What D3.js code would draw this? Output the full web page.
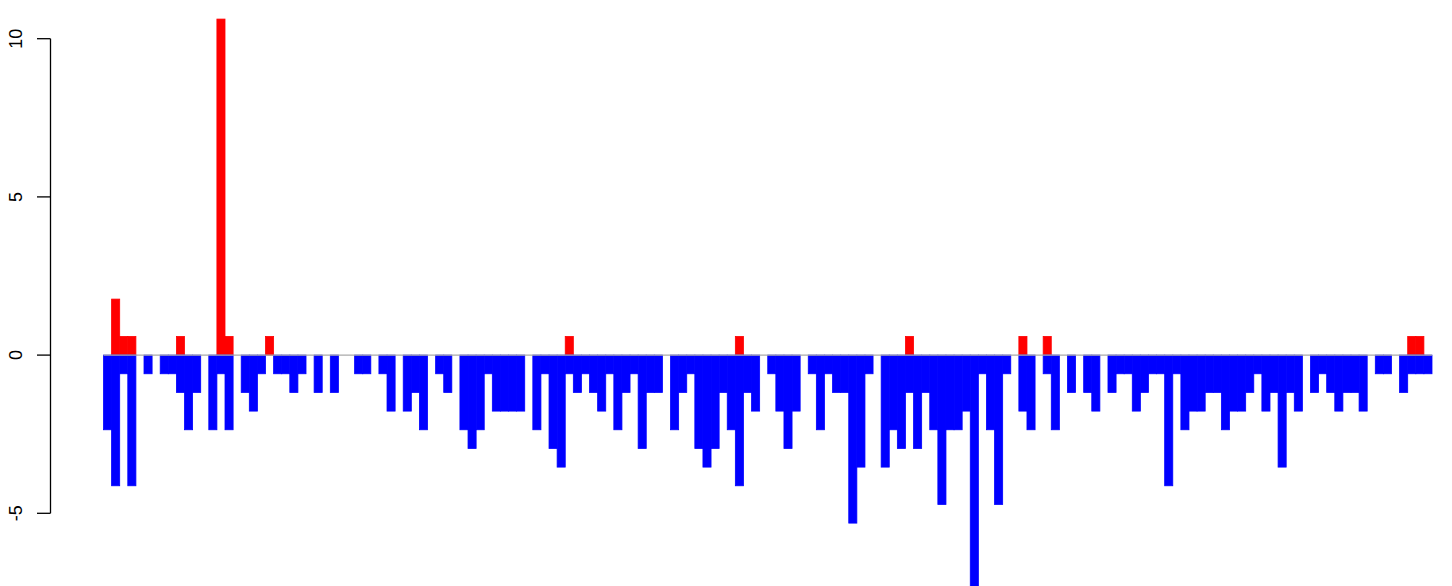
<!DOCTYPE html>
<html>
<head>
<meta charset="utf-8">
<script src="https://cdn.jsdelivr.net/npm/d3@7"></script>
<style>
  html, body { margin: 0; padding: 0; background: #ffffff; }
  svg { display: block; }
</style>
</head>
<body>
<svg id="chart" width="1452" height="586"></svg>
<script>
// ---- data ----
const categories = d3.range(1, 165);
const positiveValues = [
  0, 1.77, 0.59, 0.59, 0, 0, 0, 0, 0, 0.59,
  0, 0, 0, 0, 10.62, 0.59, 0, 0, 0, 0,
  0.59, 0, 0, 0, 0, 0, 0, 0, 0, 0,
  0, 0, 0, 0, 0, 0, 0, 0, 0, 0,
  0, 0, 0, 0, 0, 0, 0, 0, 0, 0,
  0, 0, 0, 0, 0, 0, 0, 0.59, 0, 0,
  0, 0, 0, 0, 0, 0, 0, 0, 0, 0,
  0, 0, 0, 0, 0, 0, 0, 0, 0.59, 0,
  0, 0, 0, 0, 0, 0, 0, 0, 0, 0,
  0, 0, 0, 0, 0, 0, 0, 0, 0, 0.59,
  0, 0, 0, 0, 0, 0, 0, 0, 0, 0,
  0, 0, 0, 0.59, 0, 0, 0.59, 0, 0, 0,
  0, 0, 0, 0, 0, 0, 0, 0, 0, 0,
  0, 0, 0, 0, 0, 0, 0, 0, 0, 0,
  0, 0, 0, 0, 0, 0, 0, 0, 0, 0,
  0, 0, 0, 0, 0, 0, 0, 0, 0, 0,
  0, 0.59, 0.59, 0
];
const negativeValues = [
  -2.36, -4.13, -0.59, -4.13, 0, -0.59, 0, -0.59, -0.59, -1.18,
  -2.36, -1.18, 0, -2.36, -0.59, -2.36, 0, -1.18, -1.77, -0.59,
  0, -0.59, -0.59, -1.18, -0.59, 0, -1.18, 0, -1.18, 0,
  0, -0.59, -0.59, 0, -0.59, -1.77, 0, -1.77, -1.18, -2.36,
  0, -0.59, -1.18, 0, -2.36, -2.95, -2.36, -0.59, -1.77, -1.77,
  -1.77, -1.77, 0, -2.36, -0.59, -2.95, -3.54, -0.59, -1.18, -0.59,
  -1.18, -1.77, -0.59, -2.36, -1.18, -0.59, -2.95, -1.18, -1.18, 0,
  -2.36, -1.18, -0.59, -2.95, -3.54, -2.95, -1.18, -2.36, -4.13, -1.18,
  -1.77, 0, -0.59, -1.77, -2.95, -1.77, 0, -0.59, -2.36, -0.59,
  -1.18, -1.18, -5.31, -3.54, -0.59, 0, -3.54, -2.36, -2.95, -1.18,
  -2.95, -1.18, -2.36, -4.72, -2.36, -2.36, -1.77, -7.67, -0.59, -2.36,
  -4.72, -0.59, 0, -1.77, -2.36, 0, -0.59, -2.36, 0, -1.18,
  0, -1.18, -1.77, 0, -1.18, -0.59, -0.59, -1.77, -1.18, -0.59,
  -0.59, -4.13, -0.59, -2.36, -1.77, -1.77, -1.18, -1.18, -2.36, -1.77,
  -1.77, -1.18, -0.59, -1.77, -1.18, -3.54, -1.18, -1.77, 0, -1.18,
  -0.59, -1.18, -1.77, -1.18, -1.18, -1.77, 0, -0.59, -0.59, 0,
  -1.18, -0.59, -0.59, -0.59
];
const yTicks = [-5, 0, 5, 10];
const yTickLabels = ["-5", "0", "5", "10"];

// ---- layout ----
const svg = d3.select("#chart");
const x = d3.scaleBand().domain(categories).range([103.5, 1432]).padding(0);
const y = d3.scaleLinear().domain([-5, 10]).range([513.3, 38.7]);

// positive (red) bars
svg.append("g").selectAll("rect")
  .data(categories.map((c, i) => ({c, v: positiveValues[i]})).filter(d => d.v > 0))
  .join("rect")
  .attr("x", d => x(d.c))
  .attr("width", x.bandwidth())
  .attr("y", d => y(d.v))
  .attr("height", d => y(0) - y(d.v))
  .attr("fill", "#ff0000")
  .attr("stroke", "#ff0000")
  .attr("stroke-width", 0.8);

// negative (blue) bars
svg.append("g").selectAll("rect")
  .data(categories.map((c, i) => ({c, v: negativeValues[i]})).filter(d => d.v < 0))
  .join("rect")
  .attr("x", d => x(d.c))
  .attr("width", x.bandwidth())
  .attr("y", y(0))
  .attr("height", d => y(d.v) - y(0))
  .attr("fill", "#0000ff")
  .attr("stroke", "#0000ff")
  .attr("stroke-width", 0.8);

// zero line
svg.append("line")
  .attr("x1", x.range()[0]).attr("x2", x.range()[1])
  .attr("y1", y(0)).attr("y2", y(0))
  .attr("stroke", "#aaaaaa").attr("stroke-width", 1.2);

// y axis (R style)
const axisX = 50.5;
const gAxis = svg.append("g");
gAxis.append("line")
  .attr("x1", axisX).attr("x2", axisX)
  .attr("y1", y(-5)).attr("y2", y(10))
  .attr("stroke", "#000").attr("stroke-width", 1.3);
gAxis.selectAll("line.tick")
  .data(yTicks)
  .join("line")
  .attr("class", "tick")
  .attr("x1", axisX - 13.5).attr("x2", axisX)
  .attr("y1", d => y(d)).attr("y2", d => y(d))
  .attr("stroke", "#000").attr("stroke-width", 1.3);
gAxis.selectAll("text")
  .data(yTicks)
  .join("text")
  .attr("transform", d => `translate(22,${y(d)}) rotate(-90)`)
  .attr("text-anchor", "middle")
  .attr("font-family", "Liberation Sans, Arial, Helvetica, sans-serif")
  .attr("font-size", 18)
  .attr("fill", "#000")
  .text((d, i) => yTickLabels[i]);
</script>
</body>
</html>
